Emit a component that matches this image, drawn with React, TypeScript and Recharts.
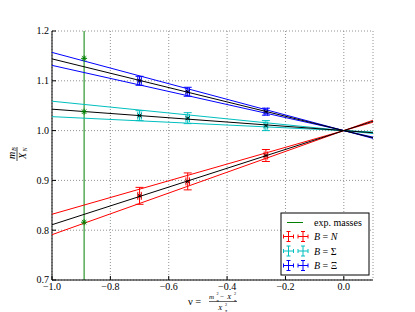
import React from 'react';
import {
  ComposedChart, Scatter, XAxis, YAxis, CartesianGrid, ReferenceLine, ErrorBar, Customized,
} from 'recharts';

// fit lines, sampled at v = -1, 0, 0.1
const vFit = [-1.0, 0.0, 0.1];
const fitN = [0.811, 1.0, 1.0189];
const fitNHi = [0.832, 1.0, 1.0168];
const fitNLo = [0.791, 1.0, 1.0209];
const fitS = [1.043, 1.0, 0.9957];
const fitSHi = [1.059, 1.0, 0.9941];
const fitSLo = [1.028, 1.0, 0.9972];
const fitX = [1.144, 1.0, 0.9856];
const fitXHi = [1.157, 1.0, 0.9843];
const fitXLo = [1.131, 1.0, 0.9869];

// lattice points
const vPts = [-0.70, -0.535, -0.267];
const vErr = [0.006, 0.006, 0.006];
const valN = [0.869, 0.898, 0.950];
const errN = [0.017, 0.017, 0.012];
const valS = [1.030, 1.025, 1.010];
const errS = [0.010, 0.011, 0.010];
const valX = [1.100, 1.078, 1.038];
const errX = [0.009, 0.009, 0.007];

// experimental masses
const vExp = -0.89;
const expVals = [0.816, 1.038, 1.145];

const xTicks = [-1.0, -0.8, -0.6, -0.4, -0.2, 0.0];
const yTicks = [0.7, 0.8, 0.9, 1.0, 1.1, 1.2];

const RED = '#ff0000';
const CYAN = '#00bfbf';
const BLUE = '#0000ff';
const GREEN = '#008000';
const FONT = '"Liberation Serif", "DejaVu Serif", serif';
const serif = { fontFamily: FONT };

const line = (ys: number[]) => vFit.map((v, i) => ({ x: v, y: ys[i] }));
const pts = (ys: number[], es: number[]) =>
  vPts.map((v, i) => ({ x: v, y: ys[i], ex: vErr[i], ey: es[i] }));
const expData = expVals.map((y) => ({ x: vExp, y }));

const fmt = (v: number) => (v < 0 ? '\u2212' + Math.abs(v).toFixed(1) : v.toFixed(1));

const NoDot = () => <g />;

const BlackMark = (p: any) => (
  <g>
    <line x1={p.cx - 1.8} x2={p.cx + 1.8} y1={p.cy - 1.8} y2={p.cy + 1.8} stroke="#000" strokeWidth={1} />
    <line x1={p.cx - 1.8} x2={p.cx + 1.8} y1={p.cy + 1.8} y2={p.cy - 1.8} stroke="#000" strokeWidth={1} />
  </g>
);

const Star = (p: any) => (
  <g stroke={GREEN} strokeWidth={1}>
    <line x1={p.cx - 3} x2={p.cx + 3} y1={p.cy} y2={p.cy} />
    <line x1={p.cx} x2={p.cx} y1={p.cy - 3} y2={p.cy + 3} />
    <line x1={p.cx - 2.2} x2={p.cx + 2.2} y1={p.cy - 2.2} y2={p.cy + 2.2} />
    <line x1={p.cx - 2.2} x2={p.cx + 2.2} y1={p.cy + 2.2} y2={p.cy - 2.2} />
  </g>
);

const BottomTick = (p: any) => (
  <g>
    <line x1={p.x} x2={p.x} y1={p.y - 4} y2={p.y - 8} stroke="#000" />
    <text x={p.x} y={p.y} dy={6} textAnchor="middle" fontSize={10} style={serif} fill="#000">
      {fmt(p.payload.value)}
    </text>
  </g>
);

const LeftTick = (p: any) => (
  <g>
    <line x1={p.x + 3} x2={p.x + 7} y1={p.y} y2={p.y} stroke="#000" />
    <text x={p.x} y={p.y} dy={3.3} textAnchor="end" fontSize={10} style={serif} fill="#000">
      {fmt(p.payload.value)}
    </text>
  </g>
);

const TopTick = (p: any) => <line x1={p.x} x2={p.x} y1={p.y} y2={p.y + 4} stroke="#000" />;
const RightTick = (p: any) => <line x1={p.x} x2={p.x - 4} y1={p.y} y2={p.y} stroke="#000" />;

const ErrIcon = ({ x, y, c }: { x: number; y: number; c: string }) => (
  <g stroke={c} strokeWidth={1}>
    <line x1={x - 5} x2={x + 5} y1={y} y2={y} />
    <line x1={x} x2={x} y1={y - 5} y2={y + 5} />
    <line x1={x - 5} x2={x - 5} y1={y - 2} y2={y + 2} />
    <line x1={x + 5} x2={x + 5} y1={y - 2} y2={y + 2} />
    <line x1={x - 2} x2={x + 2} y1={y - 5} y2={y - 5} />
    <line x1={x - 2} x2={x + 2} y1={y + 5} y2={y + 5} />
  </g>
);

const legendRows = [
  { c: RED, sym: 'N' },
  { c: CYAN, sym: '\u03A3' },
  { c: BLUE, sym: '\u039E' },
];

// small math pieces (x, baseline, size, italic)
const T = ({ x, y, s, it, children }: any) => (
  <text x={x} y={y} fontSize={s} fontStyle={it ? 'italic' : 'normal'} style={serif} fill="#000">
    {children}
  </text>
);

// base letter with stacked superscript 2 and subscript pi
const Sq = ({ x, y, ch, w }: { x: number; y: number; ch: string; w: number }) => (
  <g>
    <T x={x} y={y} s={7} it>{ch}</T>
    <T x={x + w} y={y - 4} s={4.2}>2</T>
    <T x={x + w} y={y + 2.5} s={4.2} it>{'\u03C0'}</T>
  </g>
);

const Decor = () => (
  <g>
    {/* y label */}
    <g transform="translate(17,154) rotate(-90)">
      <T x={-5} y={-2.5} s={10} it>m</T>
      <T x={3} y={-1} s={6} it>B</T>
      <line x1={-7} x2={7} y1={0} y2={0} stroke="#000" strokeWidth={0.7} />
      <T x={-5} y={8.5} s={10} it>X</T>
      <T x={2.5} y={10} s={6} it>N</T>
    </g>
    {/* x label */}
    <T x={188} y={305} s={10.5}>{'\u03BD ='}</T>
    <Sq x={209} y={299} ch="m" w={7.4} />
    <T x={220.2} y={299} s={7}>{'\u2212'}</T>
    <Sq x={227} y={299} ch="X" w={7} />
    <line x1={209} x2={237} y1={301.5} y2={301.5} stroke="#000" strokeWidth={0.6} />
    <Sq x={218} y={309.5} ch="X" w={7} />
    {/* legend */}
    <rect x={281} y={213} width={88} height={62} fill="#fff" stroke="#000" strokeWidth={1} />
    <line x1={287} x2={303} y1={222.5} y2={222.5} stroke={GREEN} strokeWidth={1} />
    <T x={314} y={226} s={10}>exp. masses</T>
    {legendRows.map((r, i) => {
      const y = 236.5 + i * 14.5;
      return (
        <g key={r.sym}>
          <ErrIcon x={288.5} y={y} c={r.c} />
          <ErrIcon x={303} y={y} c={r.c} />
          <text x={314} y={y + 3.5} fontSize={10} style={serif} fill="#000">
            <tspan fontStyle="italic">B</tspan> = <tspan fontStyle={r.sym === 'N' ? 'italic' : 'normal'}>{r.sym}</tspan>
          </text>
        </g>
      );
    })}
  </g>
);

const fitLine = (ys: number[], c: string, key: string) => (
  <Scatter key={key} data={line(ys)} line={{ stroke: c, strokeWidth: 1 }} shape={NoDot} isAnimationActive={false} />
);

const pointSeries = (ys: number[], es: number[], c: string) => (
  <Scatter data={pts(ys, es)} fill={c} shape={BlackMark} isAnimationActive={false}>
    <ErrorBar dataKey="ey" direction="y" width={4} stroke={c} strokeWidth={1} isAnimationActive={false} />
    <ErrorBar dataKey="ex" direction="x" width={4} stroke={c} strokeWidth={1} isAnimationActive={false} />
  </Scatter>
);

export default function App() {
  return (
    <div style={{ position: 'absolute', left: 0, top: 0, width: 415, height: 312, background: '#fff' }}>
      <ComposedChart width={415} height={312} margin={{ top: 31, right: 42, bottom: 12, left: 12 }}>
        <CartesianGrid stroke="#777" strokeDasharray="1 2" strokeWidth={0.8} />
        <XAxis
          type="number" dataKey="x" domain={[-1.0, 0.1]} ticks={xTicks} allowDataOverflow
          height={20} tickSize={0} tickMargin={4} tick={BottomTick} axisLine={{ stroke: '#000' }}
        />
        <XAxis
          xAxisId="top" orientation="top" type="number" domain={[-1.0, 0.1]} ticks={xTicks} allowDataOverflow
          height={0} tickSize={0} tickMargin={0} tick={TopTick} axisLine={{ stroke: '#000' }}
        />
        <YAxis
          type="number" dataKey="y" domain={[0.7, 1.2]} ticks={yTicks} allowDataOverflow
          width={40} tickSize={0} tickMargin={3} tick={LeftTick} axisLine={{ stroke: '#000' }}
        />
        <YAxis
          yAxisId="right" orientation="right" type="number" domain={[0.7, 1.2]} ticks={yTicks} allowDataOverflow
          width={0} tickSize={0} tickMargin={0} tick={RightTick} axisLine={{ stroke: '#000' }}
        />
        <ReferenceLine x={vExp} stroke={GREEN} strokeWidth={1} />
        {fitLine(fitNHi, RED, 'nh')}
        {fitLine(fitNLo, RED, 'nl')}
        {fitLine(fitSHi, CYAN, 'sh')}
        {fitLine(fitSLo, CYAN, 'sl')}
        {fitLine(fitXHi, BLUE, 'xh')}
        {fitLine(fitXLo, BLUE, 'xl')}
        {fitLine(fitN, '#000', 'n')}
        {fitLine(fitS, '#000', 's')}
        {fitLine(fitX, '#000', 'x')}
        {pointSeries(valN, errN, RED)}
        {pointSeries(valS, errS, CYAN)}
        {pointSeries(valX, errX, BLUE)}
        <Scatter data={expData} shape={Star} isAnimationActive={false} />
        <Customized component={Decor} />
      </ComposedChart>
    </div>
  );
}
